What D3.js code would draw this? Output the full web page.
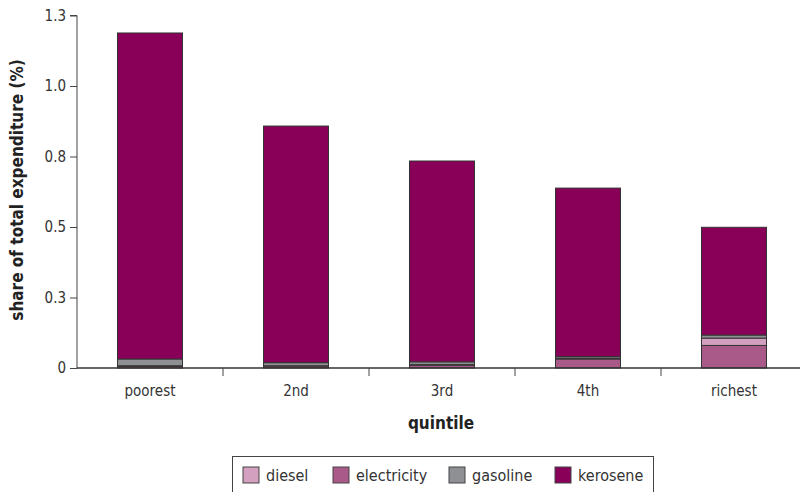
<!DOCTYPE html>
<html><head><meta charset="utf-8">
<script src="https://cdn.jsdelivr.net/npm/d3@7"></script>
<style>body{margin:0;background:#fff}svg{display:block}text{font-family:"Liberation Sans Narrow","Arial Narrow","DejaVu Sans Condensed",sans-serif}</style>
</head><body><svg id="c" width="800" height="492"></svg>
<script>
const categories = ["poorest","2nd","3rd","4th","richest"];
const seriesNames = ["diesel","electricity","gasoline","kerosene"];
const electricity = [0.006, 0.007, 0.010, 0.032, 0.080];
const diesel      = [0.002, 0.001, 0.002, 0.002, 0.026];
const gasoline    = [0.024, 0.011, 0.010, 0.006, 0.011];
const kerosene    = [1.156, 0.839, 0.712, 0.598, 0.382];
const yTicks = [0, 0.25, 0.5, 0.75, 1.0, 1.25];
const yTickLabels = ["0","0.3","0.5","0.8","1.0","1.3"];
const colors = {diesel:"#d3a0c0", electricity:"#aa5a88", gasoline:"#8f9094", kerosene:"#880058"};
const stackOrder = ["electricity","diesel","gasoline","kerosene"];
const valuesBy = {diesel, electricity, gasoline, kerosene};

(function(){
const svg = d3.select("#c");
const mLeft = 77, mRight = 807, mTop = 15.5, mBottom = 368;
const x = d3.scaleBand().domain(categories).range([mLeft, mRight]).padding(0);
const y = d3.scaleLinear().domain([0, 1.25]).range([mBottom, mTop]);

const rows = categories.map((c,i)=>{const r={cat:c}; seriesNames.forEach(s=>r[s]=valuesBy[s][i]); return r;});
const stacked = d3.stack().keys(stackOrder)(rows);
const barW = x.bandwidth()*0.445;

svg.append("g").selectAll("g").data(stacked).join("g")
  .attr("fill", d=>colors[d.key])
  .selectAll("rect").data(d=>d).join("rect")
  .attr("x", d=>x(d.data.cat)+(x.bandwidth()-barW)/2)
  .attr("width", barW)
  .attr("y", d=>y(d[1]))
  .attr("height", d=>y(d[0])-y(d[1]))
  .attr("stroke","#333").attr("stroke-width",1);

const yAxis = d3.axisLeft(y).tickValues(yTicks).tickFormat((d,i)=>yTickLabels[i]).tickSize(7).tickPadding(4);
const gy = svg.append("g").attr("transform",`translate(${mLeft},0)`).call(yAxis);
gy.select(".domain").attr("stroke","#444").attr("d",`M-7,${mTop}H0V${mBottom}`);
gy.selectAll(".tick line").attr("stroke","#444");
gy.selectAll(".tick text").attr("font-size",15).attr("fill","#333");

const gx = svg.append("g").attr("transform",`translate(0,${mBottom})`);
gx.append("line").attr("x1",mLeft).attr("x2",800).attr("stroke","#333").attr("stroke-width",1.5);
const bounds = categories.slice(1).map(c=>x(c));
gx.selectAll("line.t").data(bounds).join("line").attr("class","t")
  .attr("x1",d=>d).attr("x2",d=>d).attr("y1",0).attr("y2",8).attr("stroke","#444");
gx.selectAll("text").data(categories).join("text")
  .attr("x",d=>x(d)+x.bandwidth()/2).attr("y",28)
  .attr("text-anchor","middle").attr("font-size",15).attr("fill","#333").text(d=>d);

svg.append("text").attr("x",441).attr("y",429).attr("text-anchor","middle")
  .attr("font-size",17).attr("font-weight","bold").attr("fill","#222").text("quintile");
svg.append("text").attr("transform","translate(23,190) rotate(-90)").attr("text-anchor","middle")
  .attr("font-size",17).attr("font-weight","bold").attr("fill","#222").text("share of total expenditure (%)");

svg.append("rect").attr("x",232.5).attr("y",456.5).attr("width",421).attr("height",50)
  .attr("fill","none").attr("stroke","#444");
const legX = [243, 333, 449, 555];
const lg = svg.append("g").selectAll("g").data(seriesNames).join("g")
  .attr("transform",(d,i)=>`translate(${legX[i]},467)`);
lg.append("rect").attr("width",16).attr("height",16).attr("fill",d=>colors[d]).attr("stroke","#444");
lg.append("text").attr("x",23).attr("y",14).attr("font-size",16).attr("fill","#333").text(d=>d);
})();
</script></body></html>
